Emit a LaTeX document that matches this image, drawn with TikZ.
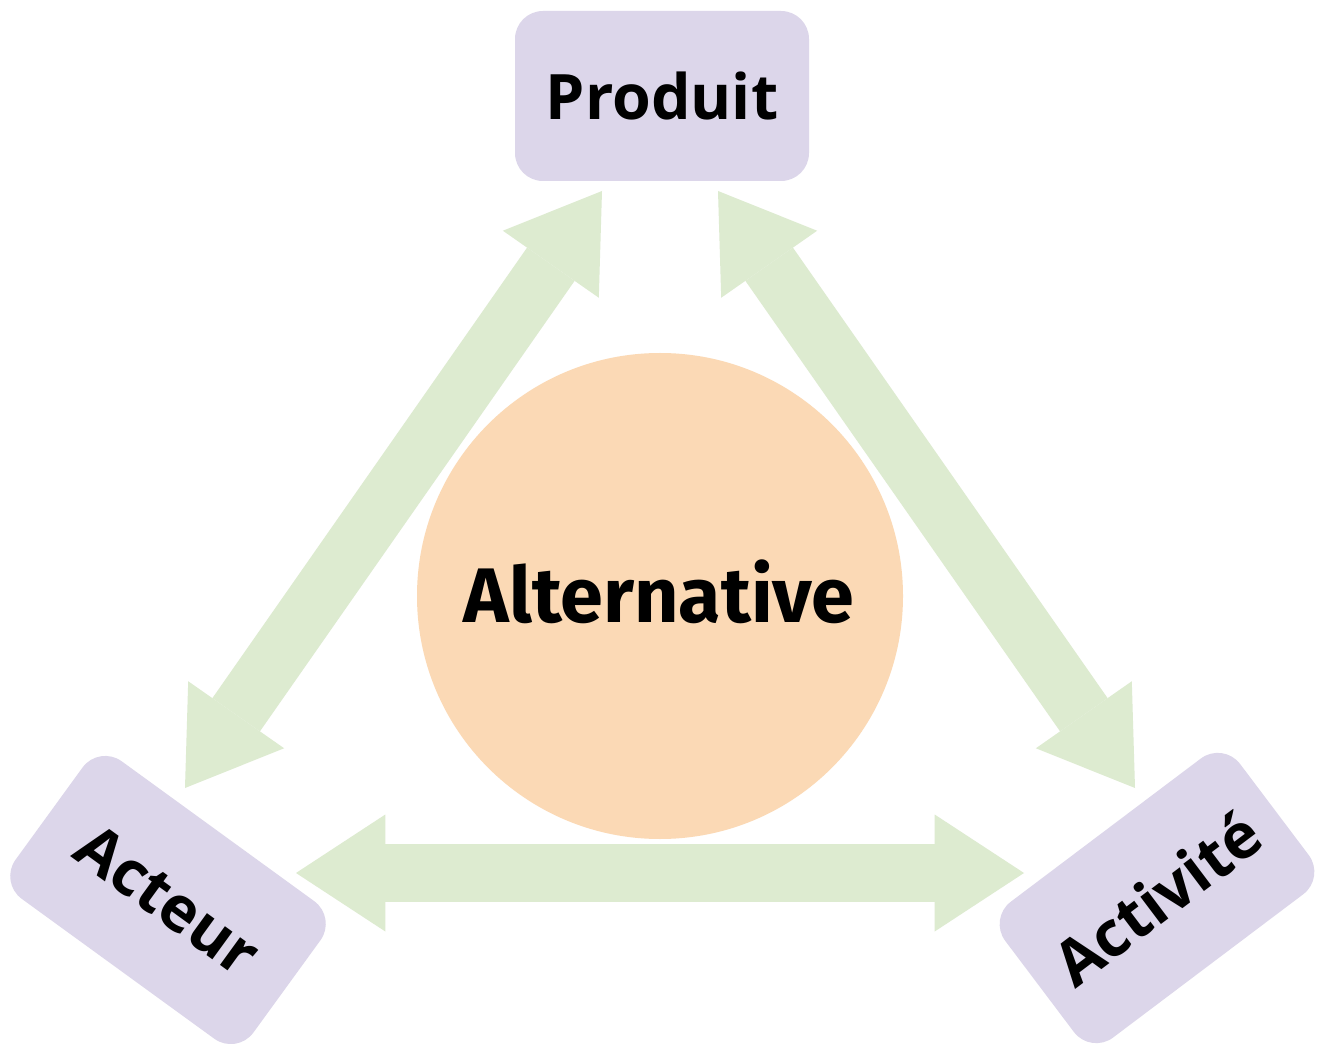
\documentclass[tikz,border=0pt]{standalone}
\usepackage{fontspec}
\setmainfont{Open Sans}
\newfontfamily\altfont{Fira Sans}
\usetikzlibrary{arrows.meta}
\definecolor{boxlav}{HTML}{DCD6EA}
\definecolor{circfill}{HTML}{FBD9B5}
\definecolor{arrgreen}{HTML}{DDEBD0}
\begin{document}
\begin{tikzpicture}[x=0.75pt,y=-0.75pt,
  box/.style={fill=boxlav, rounded corners=21pt, minimum width=220.5pt, minimum height=127.5pt,
    font=\fontsize{47}{50}\selectfont\bfseries, inner sep=0pt},
  dblarrow/.style={draw=arrgreen, line width=43.5pt,
    {Triangle[length=67pt, width=87.75pt, line width=0pt]}-{Triangle[length=67pt, width=87.75pt, line width=0pt]}}
]
\clip (0,0) rectangle (1321,1044);
\fill[white] (0,0) rectangle (1321,1044);
% arrow end points
\coordinate (lt) at (602,191);
\coordinate (lb) at (185,788);
\coordinate (rt) at (718,191);
\coordinate (rb) at (1135,788);
\coordinate (bl) at (296,873);
\coordinate (br) at (1024,873);
\draw[dblarrow] (lt) -- (lb);
\draw[dblarrow] (rt) -- (rb);
\draw[dblarrow] (bl) -- (br);
% nodes
\node[box] (produit) at (662,96) {Produit};
\node[circle, fill=circfill, minimum size=364.5pt, inner sep=0pt] (alt) at (660,596) {};
\node[font=\altfont\fontsize{58}{62}\selectfont\bfseries, inner sep=0pt] (alttext) at (659,592) {Alternative};
\node[box, rotate=-36] (acteur) at (168,900) {Acteur};
\node[box, rotate=37] (activite) at (1157,898) {Activité};
\end{tikzpicture}
\end{document}
